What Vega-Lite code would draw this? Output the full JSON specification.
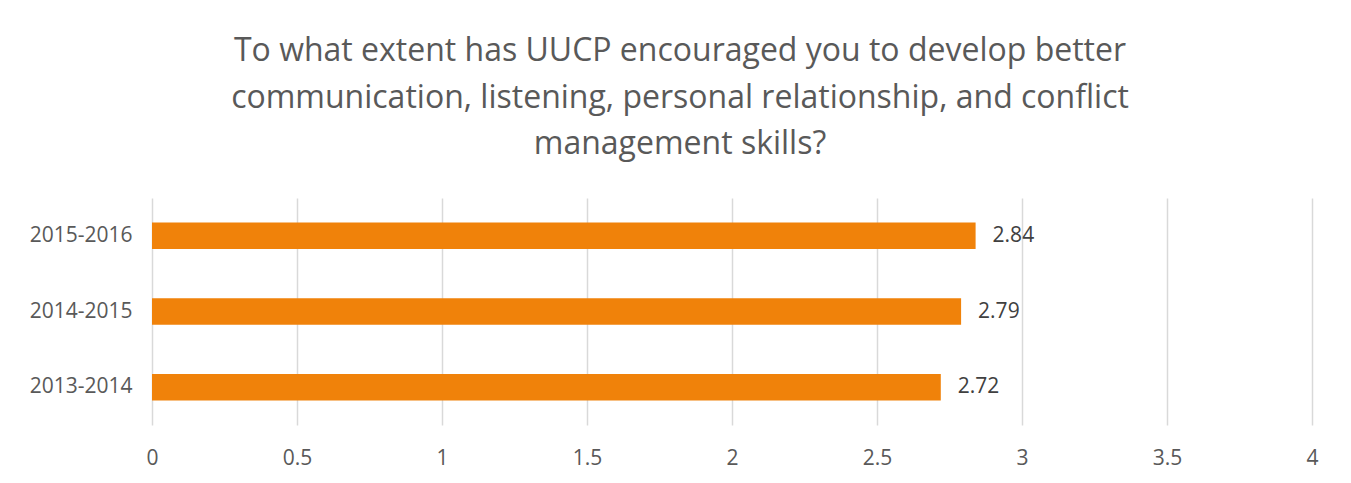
{
  "$schema": "https://vega.github.io/schema/vega-lite/v6.json",
  "width": 1160,
  "height": 227,
  "autosize": "none",
  "padding": {"left": 152, "top": 198, "right": 39, "bottom": 58},
  "background": "white",
  "title": {
    "text": ["To what extent has UUCP encouraged you to develop better", "communication, listening, personal relationship, and conflict", "management skills?"],
    "font": "Open Sans",
    "fontSize": 32,
    "fontWeight": "normal",
    "color": "#595959",
    "lineHeight": 46.5,
    "anchor": "middle",
    "dx": -52,
    "offset": 37
  },
  "data": {
    "values": [
      {"year": "2015-2016", "score": 2.84},
      {"year": "2014-2015", "score": 2.79},
      {"year": "2013-2014", "score": 2.72}
    ]
  },
  "encoding": {
    "y": {
      "field": "year",
      "type": "nominal",
      "sort": null,
      "scale": {"paddingInner": 0.65, "paddingOuter": 0.325},
      "axis": {"title": null, "domain": false, "ticks": false, "labelPadding": 20, "labelFont": "Open Sans", "labelFontSize": 21, "labelColor": "#595959"}
    },
    "x": {
      "field": "score",
      "type": "quantitative",
      "scale": {"domain": [0, 4], "nice": false},
      "axis": {"title": null, "values": [0, 0.5, 1, 1.5, 2, 2.5, 3, 3.5, 4], "format": "~g", "domain": false, "ticks": false, "grid": true, "gridColor": "#d9d9d9", "gridWidth": 1.5, "labelPadding": 22, "labelFont": "Open Sans", "labelFontSize": 21, "labelColor": "#595959", "labelFlush": false}
    }
  },
  "layer": [
    {"mark": {"type": "bar", "color": "#F0820A"}},
    {"mark": {"type": "text", "align": "left", "dx": 17, "font": "Open Sans", "fontSize": 21, "color": "#404040"}, "encoding": {"text": {"field": "score", "type": "quantitative", "format": ".2f"}}}
  ],
  "config": {"view": {"stroke": null}}
}
